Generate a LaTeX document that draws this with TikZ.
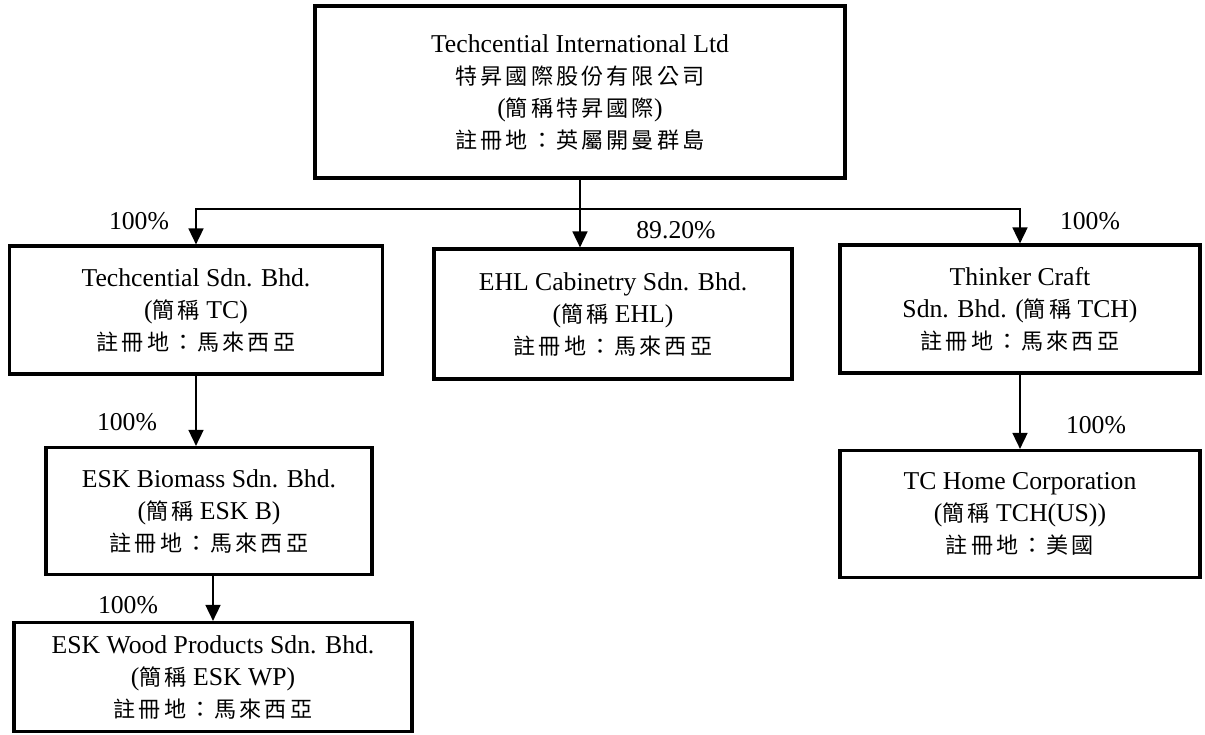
\documentclass[tikz,border=0pt]{standalone}
\usepackage{fontspec}
\usetikzlibrary{arrows.meta}
\setmainfont{Liberation Serif}
\newfontfamily\cjk{Noto Sans CJK TC}[Scale=0.86,LetterSpace=14]
\newcommand{\zh}[1]{{\cjk #1}}
\tikzset{
  company/.style={draw, line width=3.2pt, align=center, inner sep=0pt},
  owns/.style={line width=1.7pt, -{Triangle[length=16pt,width=15pt]}}
}

\begin{document}
\begin{tikzpicture}[x=1pt, y=-1pt, font=\fontsize{25.7}{32}\selectfont]
  \useasboundingbox (0,0) rectangle (1205,734);
  \node[company, minimum width=530pt, minimum height=172pt] (tci) at (580,92)
    {Techcential International Ltd\\ \zh{特昇國際股份有限公司}\\ (\zh{簡稱特昇國際})\\ \zh{註冊地：英屬開曼群島}};
  \node[company, minimum width=373pt, minimum height=128pt] (tc) at (196,310)
    {Techcential Sdn. Bhd.\\ (\zh{簡稱} TC)\\ \zh{註冊地：馬來西亞}};
  \node[company, minimum width=358pt, minimum height=130pt] (ehl) at (613,314)
    {EHL Cabinetry Sdn. Bhd.\\ (\zh{簡稱} EHL)\\ \zh{註冊地：馬來西亞}};
  \node[company, minimum width=360pt, minimum height=128pt] (tch) at (1020,309)
    {Thinker Craft\\ Sdn. Bhd. (\zh{簡稱} TCH)\\ \zh{註冊地：馬來西亞}};
  \node[company, minimum width=326pt, minimum height=127pt] (eskb) at (209,511)
    {ESK Biomass Sdn. Bhd.\\ (\zh{簡稱} ESK B)\\ \zh{註冊地：馬來西亞}};
  \node[company, minimum width=398pt, minimum height=109pt] (eskwp) at (213,677)
    {ESK Wood Products Sdn. Bhd.\\ (\zh{簡稱} ESK WP)\\ \zh{註冊地：馬來西亞}};
  \node[company, minimum width=360pt, minimum height=127pt] (tchus) at (1020,514)
    {TC Home Corporation\\ (\zh{簡稱} TCH(US))\\ \zh{註冊地：美國}};
  % ownership lines
  \coordinate (bus) at (580,209);
  \draw[owns] (tci.south) -- (tci.south |- ehl.north);
  \draw[owns] (bus) -| (tc.north);
  \draw[owns] (bus) -| (tch.north);
  \draw[owns] (tc.south) -- (tc.south |- eskb.north);
  \draw[owns] (eskwp.north |- eskb.south) -- (eskwp.north);
  \draw[owns] (tch.south) -- (tchus.north);
  % shares
  \foreach \n/\x/\y/\t in {a/139/221/100\%, b/676/230/89.20\%, c/1090/221/100\%,
                          d/127/422/100\%, e/128/605/100\%, f/1096/425/100\%}
    \node (pct\n) at (\x,\y) {\t};
\end{tikzpicture}
\end{document}
